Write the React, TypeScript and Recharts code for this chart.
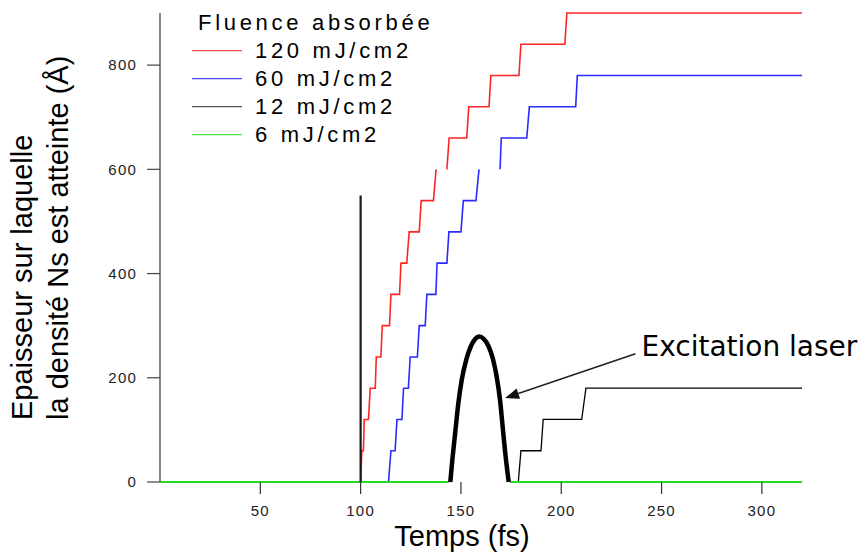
import React from "react";
import { LineChart, Line, XAxis, YAxis, Legend, ReferenceLine } from "recharts";

const W = 863;
const H = 552;

const X_TICKS = [50, 100, 150, 200, 250, 300];
const Y_TICKS = [0, 200, 400, 600, 800];

// 120 mJ/cm2 (null = hole in the trace)
const redT = [0, 100, 100.6, 101.4, 101.8, 103.9, 104.8, 107.3, 107.8, 110.1, 110.8, 114.4, 115.1, 119.4, 120.1, 123.0, 124.2, 129.2, 130.2, 136.3, 137.6, 140, 143.0, 144.1, 152.9, 153.9, 164.0, 164.9, 178.9, 179.9, 201.8, 202.8, 320];
const redV = [0, 0, 60, 60, 120, 120, 180, 180, 240, 240, 300, 300, 360, 360, 420, 420, 480, 480, 540, 540, 600, null, 600, 660, 660, 720, 720, 780, 780, 840, 840, 900, 900];

// 60 mJ/cm2
const blueT = [0, 113.9, 115.1, 117.2, 118.1, 120.6, 121.4, 123.8, 124.7, 128.3, 129.2, 132.2, 133.0, 137.5, 138.1, 143.0, 144.0, 150.0, 151.2, 157.5, 159.0, 164, 169.5, 170.1, 182.8, 184.1, 207.2, 208.0, 320];
const blueV = [0, 0, 60, 60, 120, 120, 180, 180, 240, 240, 300, 300, 360, 360, 420, 420, 480, 480, 540, 540, 600, null, 600, 660, 660, 720, 720, 780, 780];

// 12 mJ/cm2
const blackT = [0, 143.8, 160, 174.6, 178.6, 179.9, 189.9, 191.0, 210.2, 212.3, 320];
const blackV = [0, 0, null, 0, 0, 60, 60, 120, 120, 180, 180];

// 6 mJ/cm2
const greenT = [0, 143.8, 160, 174.6, 320];
const greenV = [0, 0, null, 0, 0];

// vertical marker at t = 100
const markT = [100, 100];
const markV = [0, 550];

// laser pulse
const pulseT = [144.7, 145.7, 147.1, 148.7, 150.4, 152.6, 154.9, 157.0, 159.2, 161.2, 163.7, 165.9, 167.8, 169.5, 170.8, 172.1, 173.8];
const pulseV = [0, 42, 93, 151, 196, 234, 260, 274, 279, 275, 261, 237, 202, 157, 106, 55, 0];

const ARROW_FROM = { x: 237, y: 246 };
const ARROW_TO = { x: 172, y: 161 };

const rows = (t: number[], v: (number | null)[]) => t.map((x, i) => ({ t: x, v: v[i] }));

const SERIES = [
  { name: "120 mJ/cm2", color: "#ff2424", width: 1.6, data: rows(redT, redV) },
  { name: "60 mJ/cm2", color: "#2a2aff", width: 1.6, data: rows(blueT, blueV) },
  { name: "12 mJ/cm2", color: "#000000", width: 1.3, data: rows(blackT, blackV) },
  { name: "6 mJ/cm2", color: "#22dd22", width: 2.2, data: rows(greenT, greenV) },
];

const LEGEND_COLORS = ["#ff4c4c", "#4c4cff", "#555555", "#4ce84c"];
const FONT = "'Liberation Sans', Arial, sans-serif";

function FluenceLegend() {
  return (
    <svg width={W} height={150} style={{ display: "block" }}>
      <text x={198} y={30} fontFamily={FONT} fontSize={22} letterSpacing={3.7} fill="#000">
        Fluence absorbée
      </text>
      {SERIES.map((s, i) => (
        <g key={s.name}>
          <line x1={192} x2={242} y1={50.7 + 28 * i} y2={50.7 + 28 * i} stroke={LEGEND_COLORS[i]} strokeWidth={1.3} />
          <text x={255} y={58.3 + 28 * i} fontFamily={FONT} fontSize={22} letterSpacing={3.7} fill="#000">
            {s.name}
          </text>
        </g>
      ))}
    </svg>
  );
}

const YLabel = () => (
  <g fontFamily={FONT} fontSize={29} fill="#000">
    <text transform="translate(32,420) rotate(-90)">Epaisseur sur laquelle</text>
    <text transform="translate(68,420) rotate(-90)">la densité Ns est atteinte (Å)</text>
  </g>
);

const XLabel = () => (
  <text x={462} y={546} textAnchor="middle" fontFamily={FONT} fontSize={29} fill="#000">
    Temps (fs)
  </text>
);

const ArrowShape = (p: any) => {
  const { x1, y1, x2, y2 } = p;
  const dx = x2 - x1, dy = y2 - y1;
  const len = Math.hypot(dx, dy) || 1;
  const ux = dx / len, uy = dy / len;
  const hl = 14, hw = 5.5;
  const bx = x2 - ux * hl, by = y2 - uy * hl;
  const pts = `${x2},${y2} ${bx - uy * hw},${by + ux * hw} ${bx + uy * hw},${by - ux * hw}`;
  return (
    <g>
      <line x1={x1} y1={y1} x2={bx} y2={by} stroke="#222" strokeWidth={1.6} />
      <polygon points={pts} fill="#111" />
      <text x={x1 + 6} y={y1 + 2} fontFamily="'DejaVu Sans', sans-serif" fontSize={28} fill="#000">
        Excitation laser
      </text>
    </g>
  );
};

const tickStyle = { fontFamily: FONT, fontSize: 15, fill: "#222", letterSpacing: 1.2 };

export default function App() {
  return (
    <div style={{ position: "absolute", left: 0, top: 0, width: W, height: H, background: "#fff" }}>
      <LineChart width={W} height={H} margin={{ top: 13, right: 61, left: 0, bottom: 0 }}>
        <XAxis
          type="number"
          dataKey="t"
          domain={[0, 320]}
          ticks={X_TICKS}
          height={70}
          axisLine={false}
          tickSize={12}
          tickMargin={11}
          tickLine={{ stroke: "#333", strokeWidth: 1.2 }}
          tick={tickStyle}
          label={XLabel}
        />
        <YAxis
          type="number"
          dataKey="v"
          domain={[0, 900]}
          ticks={Y_TICKS}
          width={160}
          tickSize={13}
          tickMargin={10}
          axisLine={{ stroke: "#666", strokeWidth: 1.6 }}
          tickLine={{ stroke: "#444", strokeWidth: 1.2 }}
          tick={tickStyle}
          label={YLabel}
        />
        <Legend
          layout="horizontal"
          verticalAlign="middle"
          align="center"
          content={() => <FluenceLegend />}
          wrapperStyle={{ position: "absolute", top: 0, left: 0, width: W, height: 150, margin: 0, padding: 0 }}
        />
        {SERIES.map((s) => (
          <Line
            key={s.name}
            data={s.data}
            dataKey="v"
            name={s.name}
            type="linear"
            stroke={s.color}
            strokeWidth={s.width}
            dot={false}
            activeDot={false}
            connectNulls={false}
            isAnimationActive={false}
          />
        ))}
        <Line
          data={rows(markT, markV)}
          dataKey="v"
          name="marker"
          type="linear"
          stroke="#1a1a1a"
          strokeWidth={2.2}
          dot={false}
          activeDot={false}
          legendType="none"
          isAnimationActive={false}
        />
        <Line
          data={rows(pulseT, pulseV)}
          dataKey="v"
          name="pulse"
          type="monotone"
          stroke="#000"
          strokeWidth={4.5}
          dot={false}
          activeDot={false}
          legendType="none"
          isAnimationActive={false}
        />
        <ReferenceLine segment={[ARROW_FROM, ARROW_TO]} ifOverflow="visible" shape={ArrowShape} />
      </LineChart>
    </div>
  );
}
